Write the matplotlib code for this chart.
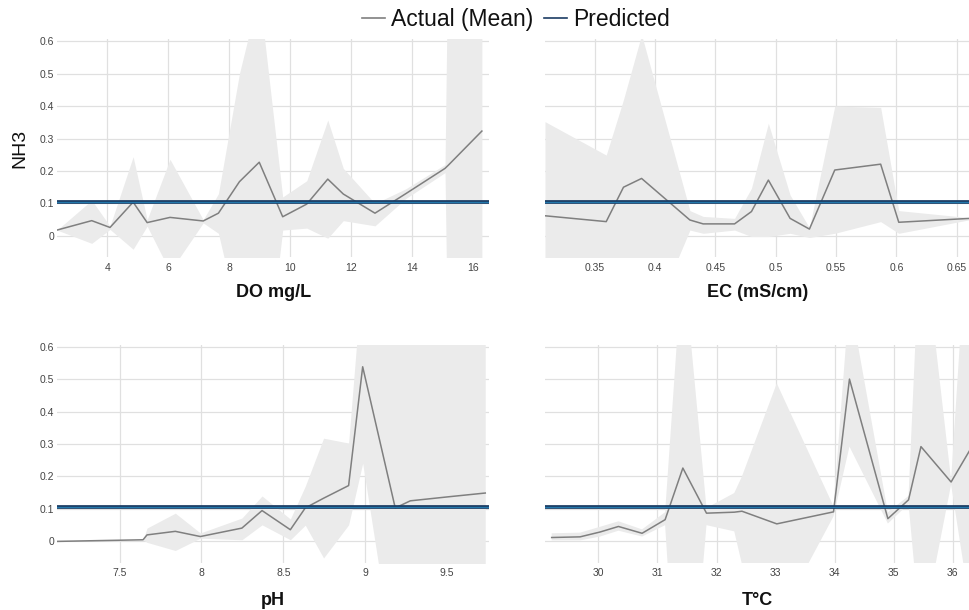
import matplotlib
matplotlib.use('Agg')
import matplotlib.pyplot as plt
from matplotlib.lines import Line2D

plt.rcParams['font.family'] = ['Liberation Sans', 'DejaVu Sans']

PREDICTED = 0.105
Y_TICKS = [0, 0.1, 0.2, 0.3, 0.4, 0.5, 0.6]

# DO mg/L
do_x = [2.35, 3.49, 4.09, 4.85, 5.31, 6.06, 7.15, 7.65, 8.34, 8.99, 9.76, 10.55, 11.24, 11.75, 12.79, 13.8, 15.09, 15.2, 16.3]
do_mean = [0.018, 0.047, 0.026, 0.104, 0.041, 0.057, 0.046, 0.07, 0.167, 0.227, 0.059, 0.098, 0.175, 0.129, 0.07, 0.13, 0.208, 0.218, 0.323]
do_upper = [0.018, 0.11, 0.03, 0.244, 0.05, 0.236, 0.05, 0.13, 0.5, 0.75, 0.12, 0.17, 0.357, 0.208, 0.1, 0.145, 0.22, 1.0, 1.0]
do_lower = [0.018, -0.023, 0.02, -0.041, 0.03, -0.11, 0.04, 0.008, -0.27, -0.6, 0.018, 0.024, -0.007, 0.047, 0.031, 0.115, 0.195, -0.5, -0.5]
do_ticks = [4, 6, 8, 10, 12, 14, 16]

# EC (mS/cm)
ec_x = [0.309, 0.3597, 0.374, 0.389, 0.429, 0.440, 0.466, 0.480, 0.494, 0.512, 0.528, 0.549, 0.587, 0.602, 0.661]
ec_mean = [0.062, 0.044, 0.150, 0.177, 0.049, 0.037, 0.037, 0.075, 0.172, 0.054, 0.021, 0.203, 0.221, 0.042, 0.054]
ec_upper = [0.352, 0.249, 0.42, 0.62, 0.078, 0.06, 0.054, 0.147, 0.347, 0.126, 0.025, 0.40, 0.396, 0.078, 0.056]
ec_lower = [-0.3, -0.3, -0.32, -0.335, 0.018, 0.008, 0.018, -0.002, -0.002, 0.008, -0.005, 0.008, 0.044, 0.008, 0.05]
ec_ticks = [0.35, 0.4, 0.45, 0.5, 0.55, 0.6, 0.65]

# pH
ph_x = [7.117, 7.643, 7.667, 7.84, 7.993, 8.247, 8.37, 8.543, 8.634, 8.746, 8.899, 8.985, 9.184, 9.276, 9.52, 9.734]
ph_mean = [0.0, 0.005, 0.02, 0.031, 0.015, 0.041, 0.095, 0.036, 0.103, 0.133, 0.172, 0.538, 0.103, 0.125, 0.138, 0.149]
ph_upper = [0.0, 0.005, 0.041, 0.087, 0.026, 0.072, 0.14, 0.069, 0.17, 0.318, 0.303, 0.84, 1.0, 1.0, 1.0, 1.0]
ph_lower = [0.0, 0.005, -0.003, -0.028, 0.01, 0.005, 0.051, 0.005, 0.05, -0.051, 0.051, 0.241, -0.4, -0.4, -0.4, -0.4]
ph_ticks = [7.5, 8, 8.5, 9, 9.5]

# T°C
t_x = [29.21, 29.69, 30.03, 30.34, 30.74, 31.13, 31.43, 31.83, 32.3, 32.43, 33.02, 33.98, 34.25, 34.9, 35.25, 35.46, 35.97, 36.29]
t_mean = [0.012, 0.014, 0.029, 0.046, 0.025, 0.067, 0.226, 0.087, 0.09, 0.093, 0.054, 0.091, 0.5, 0.07, 0.128, 0.292, 0.183, 0.282]
t_upper = [0.025, 0.027, 0.045, 0.062, 0.037, 0.09, 0.88, 0.103, 0.149, 0.2, 0.487, 0.108, 0.75, 0.09, 0.14, 1.0, 0.19, 1.1]
t_lower = [0.003, 0.003, 0.015, 0.033, 0.015, 0.05, -0.8, 0.05, 0.031, -0.07, -0.25, 0.077, 0.292, 0.055, 0.115, -0.3, 0.175, -0.2]
t_ticks = [30, 31, 32, 33, 34, 35, 36]

W, H = 970, 610
fig = plt.figure(figsize=(W / 100, H / 100), dpi=100)
fig.patch.set_facecolor('white')

BAND = '#ebebeb'
LINE = '#7f7f7f'
NAVY = '#1b3c63'
BLUE = '#2378ac'
GRID = '#e0e0e0'
TICK = '#444444'

panels = [
    (do_x, do_mean, do_upper, do_lower, (2.35, 16.55), do_ticks, 'DO mg/L', (57, 489.5, 39.2, 257.0), True, 297),
    (ec_x, ec_mean, ec_upper, ec_lower, (0.309, 0.661), ec_ticks, 'EC (mS/cm)', (545, 970, 39.2, 257.0), False, 297),
    (ph_x, ph_mean, ph_upper, ph_lower, (7.117, 9.76), ph_ticks, 'pH', (57, 489.5, 344.7, 562.5), True, 605),
    (t_x, t_mean, t_upper, t_lower, (29.097, 36.29), t_ticks, 'T°C', (545, 970, 344.7, 562.5), False, 605),
]

for xs, mean, up, lo, xlim, xt, title, (x0, x1, yt, yb), show_y, base in panels:
    ax = fig.add_axes([x0 / W, 1 - yb / H, (x1 - x0) / W, (yb - yt) / H])
    ax.set_facecolor('white')
    ax.fill_between(xs, lo, up, color=BAND, linewidth=0, zorder=1)
    ax.plot(xs, mean, color=LINE, lw=1.1, zorder=3)
    ax.axhline(PREDICTED, color=NAVY, lw=2.7, zorder=4)
    ax.axhline(PREDICTED, color=BLUE, lw=0.9, zorder=5)
    ax.set_xlim(*xlim)
    ax.set_ylim(-0.065, 0.606)
    ax.set_xticks(xt)
    ax.set_xticklabels([f'{v:g}' for v in xt])
    ax.set_yticks(Y_TICKS)
    ax.set_yticklabels([f'{v:g}' for v in Y_TICKS] if show_y else [])
    ax.grid(True, color=GRID, lw=0.9, zorder=0)
    ax.set_axisbelow(True)
    for s in ax.spines.values():
        s.set_visible(False)
    ax.tick_params(axis='both', length=0, labelsize=7.5, labelcolor=TICK)
    ax.tick_params(axis='x', pad=4)
    ax.tick_params(axis='y', pad=2)
    fig.text((x0 + x1) / 2 / W, 1 - base / H, title, ha='center', va='baseline',
             fontsize=13, fontweight='bold', color='#111111')

fig.text(20 / W, 1 - 148.5 / H, 'NH3', rotation=90, ha='center', va='center',
         fontsize=14, color='#111111')

handles = [Line2D([], [], color=LINE, lw=1.2), Line2D([], [], color=NAVY, lw=1.2)]
fig.legend(handles, ['Actual (Mean)', 'Predicted'], loc='center',
           bbox_to_anchor=(516 / W, 1 - 19.5 / H), ncol=2, frameon=False,
           fontsize=16.5, handlelength=1.0, handletextpad=0.25, columnspacing=0.5,
           borderaxespad=0, borderpad=0, labelcolor='#111111')

fig.savefig('out.png', dpi=100, facecolor='white')
